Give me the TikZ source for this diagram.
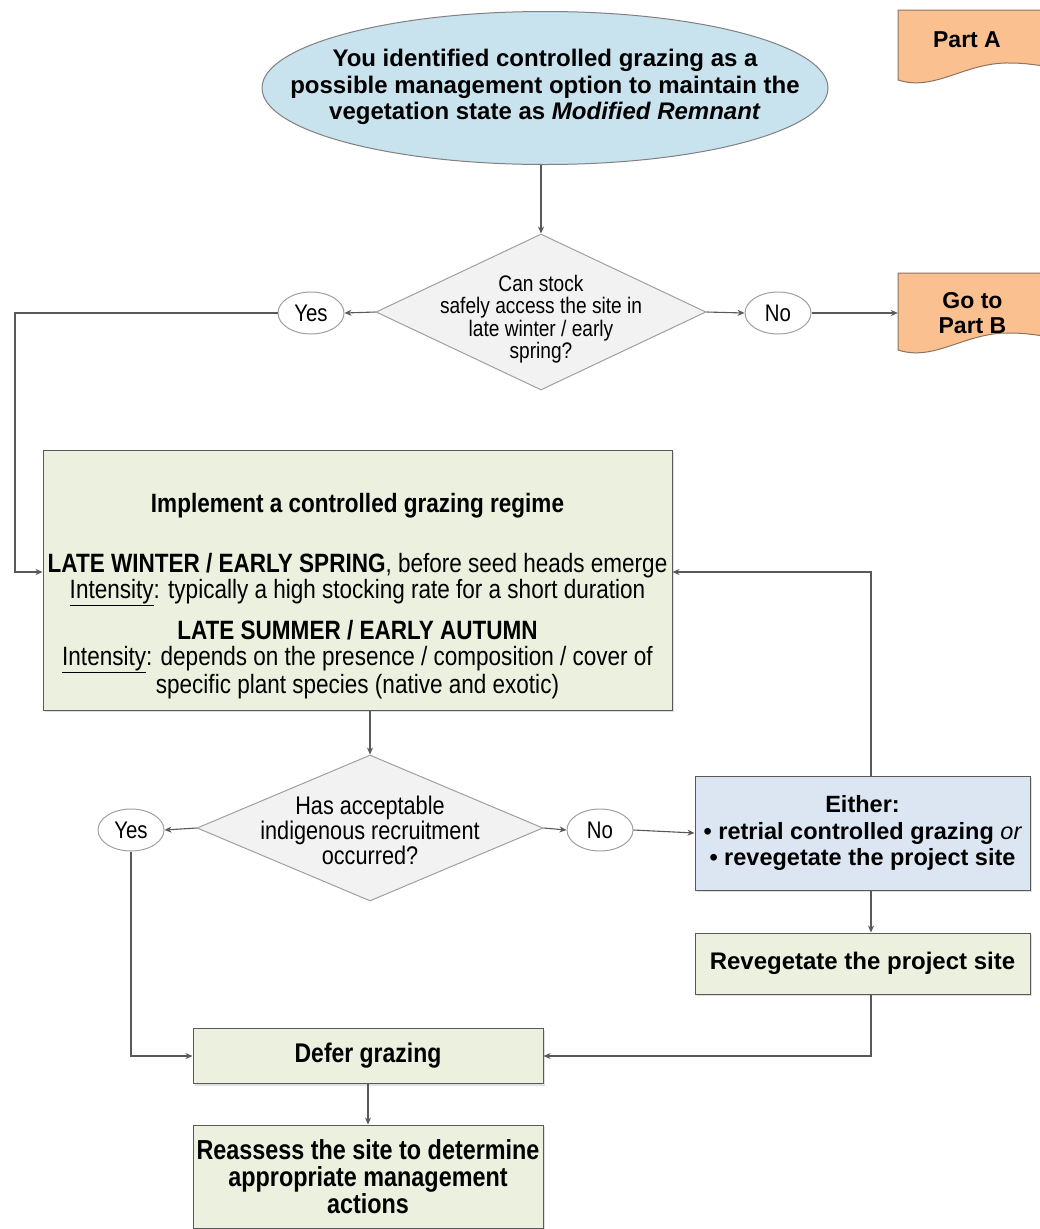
\documentclass[tikz,border=0pt]{standalone}
\usepackage{fontspec}
\setmainfont{Liberation Sans}
\newfontfamily\nf[FakeStretch=0.85]{Liberation Sans}
\usetikzlibrary{shapes.geometric,arrows.meta,shadows}
\definecolor{lineg}{RGB}{89,89,89}
\definecolor{ellblue}{RGB}{200,226,238}
\definecolor{diafill}{RGB}{242,242,242}
\definecolor{diaedge}{RGB}{160,160,160}
\definecolor{gfill}{RGB}{235,241,222}
\definecolor{bfill}{RGB}{220,230,242}
\definecolor{ofill}{RGB}{250,192,144}
\definecolor{oedge}{RGB}{140,115,95}
\tikzset{
  conn/.style={draw=lineg, line width=1.1pt, -{Stealth[length=7pt,width=6pt]}},
  gbox/.style={draw=lineg, line width=1pt, fill=gfill, inner sep=0pt,
     drop shadow={shadow xshift=2pt, shadow yshift=-2pt, opacity=0.25}},
  bbox/.style={draw=lineg, line width=1pt, fill=bfill, inner sep=0pt,
     drop shadow={shadow xshift=2pt, shadow yshift=-2pt, opacity=0.25}},
  decis/.style={diamond, draw=diaedge, line width=1pt, fill=diafill, inner sep=0pt},
  yn/.style={ellipse, draw=diaedge, line width=1pt, fill=white, inner sep=0pt,
     minimum width=66pt, minimum height=42pt, font=\nf\fontsize{24}{24}\selectfont},
  txt/.style={align=center, inner sep=0pt},
  docst/.style={draw=oedge, line width=1pt, fill=ofill}
}
\begin{document}
\begin{tikzpicture}[x=1pt,y=-1pt]
\useasboundingbox (0,0) rectangle (1040,1229);
\fill[white] (0,0) rectangle (1040,1229);

% Part A / Part B document shapes
\path[docst] (898,10) -- (1045,10) -- (1045,66) .. controls (1035,65) and (1025,63) .. (1010,63)
   .. controls (965,62) and (935,92) .. (898,80) -- cycle;
\node[txt, font=\bfseries\fontsize{23}{25}\selectfont] (partA) at (967,40) {Part A};
\path[docst] (898,273) -- (1045,273) -- (1045,336) .. controls (1035,335) and (1025,333) .. (1010,333)
   .. controls (965,332) and (935,362) .. (898,350) -- cycle;
\node[txt, font=\bfseries\fontsize{23}{25}\selectfont, minimum width=149pt, minimum height=60pt] (partB) at (972.5,313) {Go to\\Part B};

% start ellipse
\node[ellipse, draw=gray, line width=1pt, fill=ellblue, minimum width=566pt, minimum height=153pt,
      inner sep=0pt] (start) at (545,88) {};
\node[txt, font=\bfseries\fontsize{24}{26.5}\selectfont] (startt) at (545,87)
  {You identified controlled grazing as a\\possible management option to maintain the\\vegetation state as \textit{Modified Remnant}};

% decision 1
\node[decis, minimum width=330pt, minimum height=156pt] (d1) at (541,312) {};
\node[txt, font=\nf\fontsize{22.5}{22.5}\selectfont] (d1t) at (541,319)
  {Can stock\\safely access the site in\\late winter / early\\spring?};
\node[yn] (yes1) at (311,313) {Yes};
\node[yn] (no1) at (778,313) {No};
\coordinate (lturn) at (15,313);

% big box
\node[gbox, minimum width=629pt, minimum height=260pt] (big) at (357.5,580) {};
\node[txt, font=\nf\fontsize{26.5}{26}\selectfont] (bigt) at (357.5,596)
  {\textbf{Implement a controlled grazing regime}\\[34pt]
   \textbf{LATE WINTER / EARLY SPRING}, before seed heads emerge\\
   \underline{Intensity}: typically a high stocking rate for a short duration\\[13pt]
   \textbf{LATE SUMMER / EARLY AUTUMN}\\
   \underline{Intensity}: depends on the presence / composition / cover of\\
   specific plant species (native and exotic)};

% decision 2
\node[decis, minimum width=346pt, minimum height=146pt] (d2) at (370,828) {};
\node[txt, font=\nf\fontsize{25.5}{25}\selectfont] (d2t) at (370,830)
  {Has acceptable\\indigenous recruitment\\occurred?};
\node[yn] (yes2) at (131,830) {Yes};
\node[yn] (no2) at (600,830) {No};

% either box
\node[bbox, minimum width=335pt, minimum height=114pt, align=center,
      font=\bfseries\fontsize{23.5}{26.5}\selectfont] (either) at (862.5,833)
  {Either:\\\textbullet\ retrial controlled grazing {\mdseries\itshape or}\\\textbullet\ revegetate the project site};
\coordinate (vx) at (871,700);

% revegetate
\node[gbox, minimum width=335pt, minimum height=61pt, font=\bfseries\fontsize{24}{24}\selectfont] (reveg) at (862.5,963.5)
  {Revegetate the project site};

% defer
\node[gbox, minimum width=350pt, minimum height=55pt, font=\nf\bfseries\fontsize{27}{27}\selectfont] (defer) at (368,1056)
  {Defer grazing};
% reassess
\node[gbox, minimum width=350pt, minimum height=103pt, align=center, font=\nf\bfseries\fontsize{27.5}{27}\selectfont] (reass) at (368,1176.5)
  {Reassess the site to determine\\appropriate management\\actions};

% connectors
\draw[conn] (start.south -| d1.north) -- (d1.north);
\draw[conn] (d1.west) -- (yes1.east);
\draw[conn] (d1.east) -- (no1.west);
\draw[conn] (no1.east) -- (partB.west);
\draw[conn] (yes1.west) -- (lturn) |- ([yshift=8pt]big.west);
\draw[conn] (big.south -| d2.north) -- (d2.north);
\draw[conn] (d2.west) -- (yes2.east);
\draw[conn] (d2.east) -- (no2.west);
\draw[conn] (no2.east) -- (either.west);
\draw[conn] (either.north -| vx) |- ([yshift=8pt]big.east);
\draw[conn] (either.south -| vx) -- (reveg.north -| vx);
\draw[conn] (reveg.south -| vx) |- (defer.east);
\draw[conn] (yes2.south) |- (defer.west);
\draw[conn] (defer.south) -- (reass.north);
\end{tikzpicture}
\end{document}
